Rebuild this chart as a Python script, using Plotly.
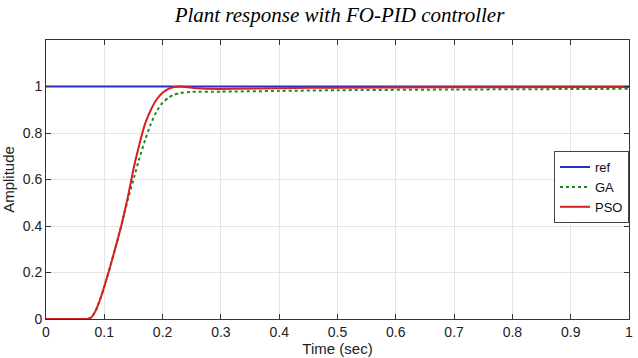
import plotly.graph_objects as go

# Data
t_ref = [0.0, 1.0]
y_ref = [1.0, 1.0]

t_ga = [0.0, 0.065, 0.072, 0.078, 0.085, 0.09, 0.095, 0.10, 0.11, 0.12, 0.13, 0.14, 0.15, 0.16, 0.17,
        0.18, 0.19, 0.20, 0.21, 0.22, 0.23, 0.25, 0.30, 0.40, 0.50, 0.70, 1.00]
y_ga = [0.0, 0.0, 0.0, 0.008, 0.035, 0.065, 0.10, 0.14, 0.225, 0.315, 0.41, 0.51, 0.60, 0.69, 0.77,
        0.84, 0.895, 0.93, 0.952, 0.965, 0.972, 0.977, 0.978, 0.981, 0.984, 0.987, 0.99]

t_pso = [0.0, 0.065, 0.072, 0.078, 0.085, 0.09, 0.095, 0.10, 0.11, 0.12, 0.13, 0.14, 0.15, 0.16, 0.17,
         0.18, 0.19, 0.20, 0.21, 0.22, 0.23, 0.25, 0.28, 0.32, 0.40, 0.50, 0.70, 1.00]
y_pso = [0.0, 0.0, 0.0, 0.008, 0.035, 0.065, 0.10, 0.14, 0.225, 0.315, 0.41, 0.52, 0.645, 0.75, 0.84,
         0.90, 0.945, 0.973, 0.99, 0.998, 1.0, 0.995, 0.99, 0.99, 0.993, 0.995, 0.997, 0.998]

x_ticks = [0, 0.1, 0.2, 0.3, 0.4, 0.5, 0.6, 0.7, 0.8, 0.9, 1]
x_labels = ["0", "0.1", "0.2", "0.3", "0.4", "0.5", "0.6", "0.7", "0.8", "0.9", "1"]
y_ticks = [0, 0.2, 0.4, 0.6, 0.8, 1]
y_labels = ["0", "0.2", "0.4", "0.6", "0.8", "1"]

fig = go.Figure()
fig.add_trace(go.Scatter(x=t_ref, y=y_ref, mode="lines", name="ref",
                         line=dict(color="#2b2bd0", width=2)))
fig.add_trace(go.Scatter(x=t_ga, y=y_ga, mode="lines", name="GA",
                         line=dict(color="#1e8a1e", width=2, dash="dot", shape="spline", smoothing=0.5)))
fig.add_trace(go.Scatter(x=t_pso, y=y_pso, mode="lines", name="PSO",
                         line=dict(color="#d42020", width=2, shape="spline", smoothing=0.5)))

font_main = "Liberation Sans, Arial, sans-serif"
fig.update_layout(
    width=638, height=358,
    margin=dict(l=46, r=5, t=40, b=39),
    paper_bgcolor="white", plot_bgcolor="white",
    title=dict(text="<i>Plant response with FO-PID controller</i>",
               font=dict(family="Liberation Serif, serif", size=21, color="black"),
               x=(46 + 633) / 2 / 638, xanchor="center", y=0.96, yanchor="middle"),
    font=dict(family=font_main, size=14, color="#222"),
    legend=dict(x=1.0, xanchor="right", y=0.602, yanchor="top",
                bordercolor="#444", borderwidth=1, bgcolor="white",
                font=dict(size=13, color="#111"), tracegroupgap=0,
                itemwidth=30),
    showlegend=True,
)
fig.update_xaxes(range=[0, 1], tickvals=x_ticks, ticktext=x_labels,
                 showgrid=True, gridcolor="#e6e6e6", gridwidth=1,
                 showline=True, linecolor="#333", linewidth=1, mirror="ticks",
                 ticks="inside", ticklen=5, tickcolor="#333",
                 zeroline=False,
                 title=dict(text="Time (sec)", font=dict(size=15), standoff=2))
fig.update_yaxes(range=[0, 1.2], tickvals=y_ticks, ticktext=y_labels,
                 showgrid=True, gridcolor="#e6e6e6", gridwidth=1,
                 showline=True, linecolor="#333", linewidth=1, mirror="ticks",
                 ticks="inside", ticklen=5, tickcolor="#333",
                 zeroline=False,
                 title=dict(text="Amplitude", font=dict(size=15), standoff=4))

fig.write_html("out.html")
